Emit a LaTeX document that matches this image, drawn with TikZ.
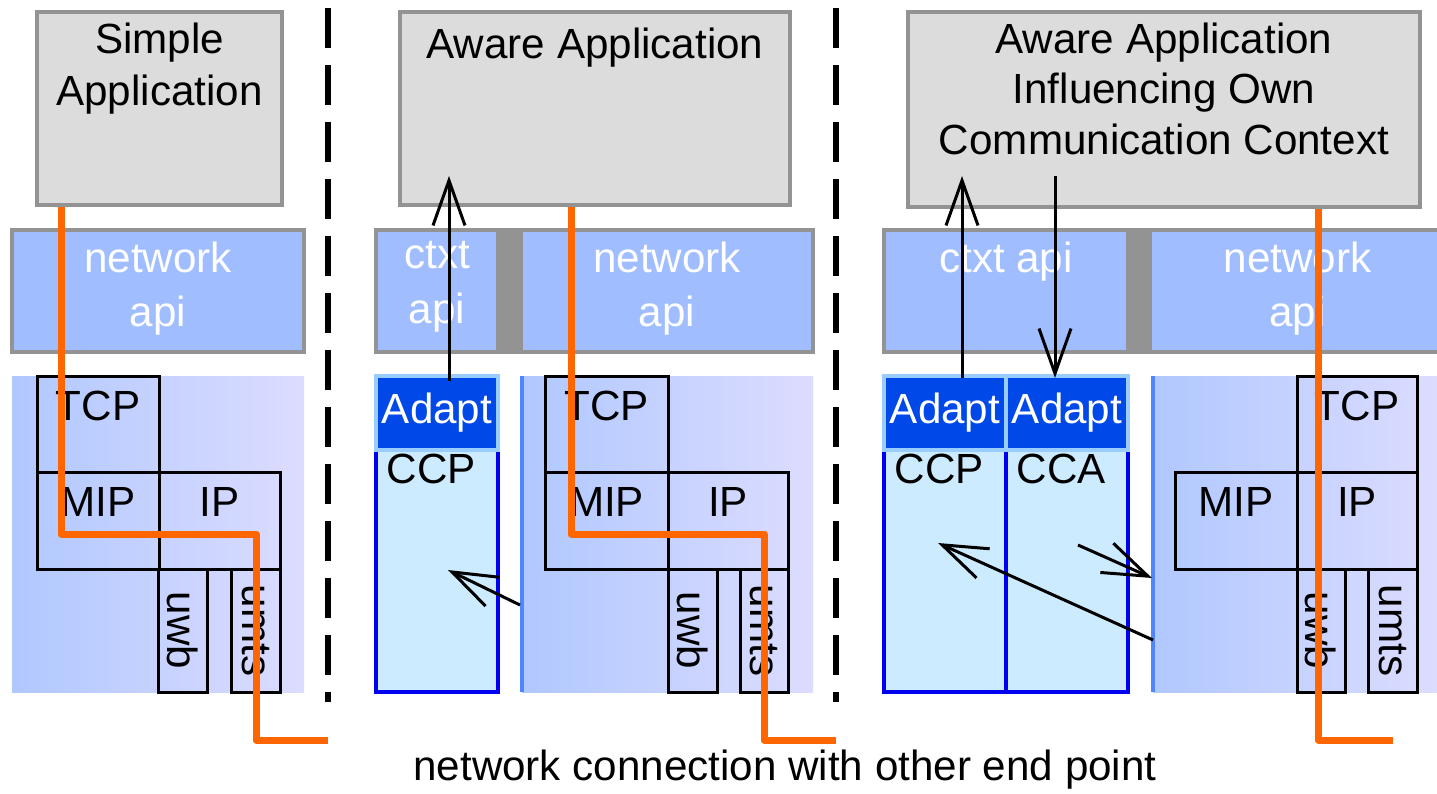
\documentclass[tikz,border=0pt]{standalone}
\usepackage{fontspec}
\setmainfont{Liberation Sans}
\usetikzlibrary{arrows.meta}
\definecolor{boxgray}{HTML}{DCDCDC}
\definecolor{rimgray}{HTML}{939393}
\definecolor{apiblue}{HTML}{A0BEFF}
\definecolor{adaptblue}{HTML}{0048E8}
\definecolor{adaptrim}{HTML}{99CCFF}
\definecolor{colfill}{HTML}{CCEBFF}
\definecolor{colrim}{HTML}{0000F0}
\definecolor{stackleft}{HTML}{B0C8FF}
\definecolor{stackright}{HTML}{DCDCFF}
\definecolor{edgeblue}{HTML}{4F86FF}
\definecolor{connorange}{HTML}{FF6600}
\tikzset{
  appbox/.style={draw=rimgray, fill=boxgray, line width=0.4mm, inner sep=0pt},
  apptxt/.style={anchor=north, inner sep=0pt, align=center, yshift=-1.2mm},
  apibox/.style={draw=rimgray, fill=apiblue, line width=0.4mm, minimum height=12.2mm, inner sep=0pt},
  apitxt/.style={anchor=north, inner sep=0pt, align=center, text=white, yshift=-1.3mm, font=\fontsize{12}{15.4}\selectfont},
  bridge/.style={fill=rimgray},
  stackbg/.style={left color=stackleft, right color=stackright},
  stackbox/.style={draw=black, line width=0.3mm, inner sep=0pt},
  stacktxt/.style={anchor=north, inner sep=0pt, yshift=-1.6mm},
  linkbox/.style={draw=black, line width=0.3mm, inner sep=0pt, minimum width=4.9mm, minimum height=12.3mm},
  adaptbox/.style={draw=adaptrim, fill=adaptblue, line width=0.4mm, minimum width=12.2mm, minimum height=7.4mm, inner sep=0pt, text=white},
  colbox/.style={draw=colrim, fill=colfill, line width=0.4mm, minimum width=12.2mm, minimum height=24.2mm},
  coltxt/.style={anchor=north west, inner sep=0pt},
  edgeline/.style={draw=edgeblue, line width=0.4mm},
  netpath/.style={draw=connorange, line width=0.7mm, line join=round},
  sig/.style={draw=black, line width=0.3mm, -{Straight Barb[length=4.5mm,width=3.2mm]}},
  divider/.style={draw=black, line width=0.6mm, dash pattern=on 4mm off 1.7mm}
}
\begin{document}
\begin{tikzpicture}[x=0.1mm, y=-0.1mm, font=\fontsize{12}{14.8}\selectfont]
  \useasboundingbox (0,0) rectangle (1437,793);

  % protocol stacks
  \shade[stackbg] (12,376) rectangle (304,692);
  \shade[stackbg] (522,376) rectangle (813,692);
  \shade[stackbg] (1153,376) rectangle (1437,692);
  \draw[edgeline] (522,376) -- (522,692);
  \draw[edgeline] (1153,376) -- (1153,692);

  % simple application
  \node[appbox, minimum width=24.5mm, minimum height=19.3mm, label={[apptxt]north:Simple\\Application}] (simple) at (159.5,108.5) {};
  \node[apibox, minimum width=29.2mm, label={[apitxt]north:network\\api}] (net1) at (158,291) {};
  \node[stackbox, minimum width=12.2mm, minimum height=9.6mm, label={[stacktxt]north:TCP}] (tcp1) at (98,424) {};
  \node[stackbox, minimum width=12.2mm, minimum height=9.7mm, label={[stacktxt]north:MIP}] (mip1) at (98,520.5) {};
  \node[stackbox, minimum width=12.1mm, minimum height=9.7mm, label={[stacktxt]north:IP}] (ip1) at (219.5,520.5) {};
  \node[linkbox] (uwb1) at (182.5,630.5) {\rotatebox{-90}{uwb}};
  \node[linkbox] (umts1) at (255.5,630.5) {\rotatebox{-90}{umts}};

  % aware application
  \node[appbox, minimum width=39mm, minimum height=19.3mm, label={[apptxt, yshift=-0.5mm]north:Aware Application}] (aware) at (595,108.5) {};
  \node[apibox, minimum width=12.2mm, label={[apitxt]north:ctxt\\api}] (ctx2) at (437,291) {};
  \node[apibox, minimum width=29.2mm, label={[apitxt]north:network\\api}] (net2) at (667,291) {};
  \fill[bridge] (ctx2.north east) rectangle (net2.south west);
  \node[stackbox, minimum width=12.3mm, minimum height=9.6mm, label={[stacktxt]north:TCP}] (tcp2) at (606.5,424) {};
  \node[stackbox, minimum width=12.3mm, minimum height=9.7mm, label={[stacktxt]north:MIP}] (mip2) at (606.5,520.5) {};
  \node[stackbox, minimum width=12mm, minimum height=9.7mm, label={[stacktxt]north:IP}] (ip2) at (728,520.5) {};
  \node[linkbox] (uwb2) at (692.5,630.5) {\rotatebox{-90}{uwb}};
  \node[linkbox, minimum width=4.8mm] (umts2) at (764,630.5) {\rotatebox{-90}{umts}};
  \node[colbox] (ccp2) at (437,571) {};
  \node[adaptbox] (adapt2) at (437,413) {Adapt};
  \node[coltxt] (ccp2t) at ([shift={(1.2mm,-0.5mm)}]ccp2.north west) {CCP};

  % aware application influencing own context
  \node[appbox, minimum width=51.2mm, minimum height=19.5mm, label={[apptxt, font=\fontsize{12}{14.4}\selectfont]north:Aware Application\\Influencing Own\\Communication Context}] (own) at (1164,109.5) {};
  \node[apibox, minimum width=24.4mm, label={[apitxt]north:ctxt api}] (ctx3) at (1006,291) {};
  \node[apibox, minimum width=29.5mm, label={[apitxt]north:network\\api}] (net3) at (1297.5,291) {};
  \fill[bridge] (ctx3.north east) rectangle (net3.south west);
  \node[stackbox, minimum width=12mm, minimum height=9.6mm, label={[stacktxt]north:TCP}] (tcp3) at (1357,424) {};
  \node[stackbox, minimum width=12.2mm, minimum height=9.7mm, label={[stacktxt]north:MIP}] (mip3) at (1236,520.5) {};
  \node[stackbox, minimum width=12mm, minimum height=9.7mm, label={[stacktxt]north:IP}] (ip3) at (1357,520.5) {};
  \node[linkbox, minimum width=4.8mm] (uwb3) at (1321,630.5) {\rotatebox{-90}{uwb}};
  \node[linkbox] (umts3) at (1392.5,630.5) {\rotatebox{-90}{umts}};
  \node[colbox] (ccp3) at (945,571) {};
  \node[colbox] (cca3) at (1067,571) {};
  \node[adaptbox] (adapt3a) at (945,413) {Adapt};
  \node[adaptbox] (adapt3b) at (1067,413) {Adapt};
  \node[coltxt] (ccp3t) at ([shift={(1.2mm,-0.5mm)}]ccp3.north west) {CCP};
  \node[coltxt] (cca3t) at ([shift={(1.2mm,-0.5mm)}]cca3.north west) {CCA};

  % separators
  \draw[divider] (328,8) -- (328,702);
  \draw[divider] (836,8) -- (836,702);

  % network connections
  \coordinate (peer1) at (328,740);
  \coordinate (peer2) at (836,740);
  \coordinate (peer3) at (1393,740);
  \draw[netpath] ([xshift=2.6mm]simple.south west) -- ++(0,327) -- ++(195,0) |- (peer1);
  \draw[netpath] ([xshift=17.3mm]aware.south west) -- ++(0,327) -- ++(193,0) |- (peer2);
  \draw[netpath] ([xshift=41.2mm]own.south west) |- (peer3);

  % context signalling
  \coordinate (tap2) at (520,605);
  \coordinate (tap3) at (1153,640);
  \coordinate (tap3b) at (1152,578);
  \draw[sig] ([xshift=1.2mm,yshift=-0.7mm]adapt2.north) -- ++(0,-205);
  \draw[sig] ([xshift=1.7mm,yshift=-0.4mm]adapt3a.north) -- ++(0,-202);
  \draw[sig] ([xshift=-1.2mm,yshift=19.8mm]adapt3b.north) -- ([xshift=-1.2mm,yshift=-0.4mm]adapt3b.north);
  \draw[sig] (tap2) -- ([shift={(1.1mm,0.1mm)}]ccp2.center);
  \draw[sig] (tap3) -- ([shift={(-0.7mm,2.8mm)}]ccp3.center);
  \draw[sig] ([shift={(1.1mm,2.6mm)}]cca3.center) -- (tap3b);

  \node (caption) at (785,770) {network connection with other end point};
\end{tikzpicture}
\end{document}
